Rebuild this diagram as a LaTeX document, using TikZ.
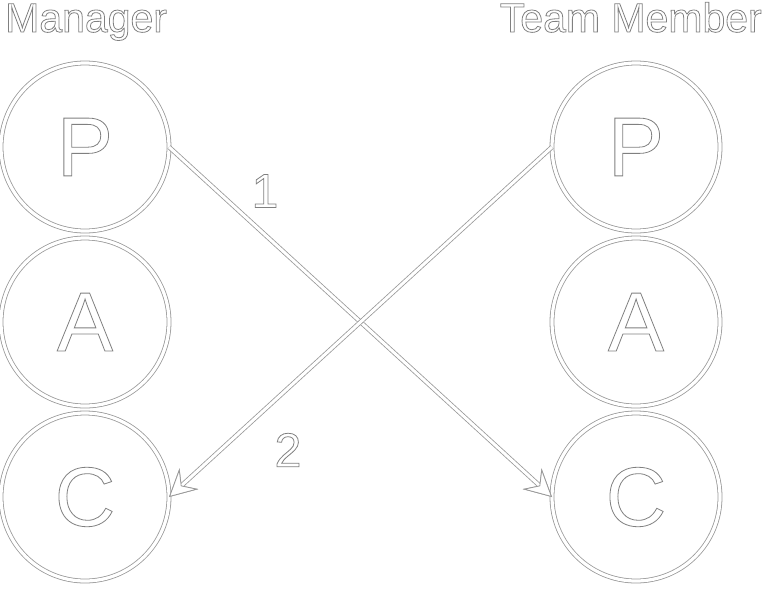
\documentclass[tikz,border=0pt]{standalone}
\usepackage{fontspec}
\setmainfont{Liberation Sans}
\usetikzlibrary{arrows.meta}
\newcommand{\emb}[1]{\special{pdf:code 2 Tr 0.8 w 0.5 G 1 g}#1\special{pdf:code 0 Tr 0 g 0 G}}
\tikzset{
  ring/.style={circle, minimum size=168pt, inner sep=0pt, outer sep=0pt,
    draw=black!40, double=white, double distance=3.2pt, line width=0.8pt,
    font=\fontsize{84}{84}\selectfont},
  link/.style={white, line width=3pt, preaction={draw=black!40, line width=4.6pt},
    -{Stealth[length=27pt,width=28pt,inset=10pt,fill=white,color=black!40,line width=0.8pt]}},
  title/.style={font=\fontsize{41}{41}\selectfont, inner sep=0pt},
  num/.style={font=\fontsize{48}{48}\selectfont, inner sep=0pt}
}
\begin{document}
\begin{tikzpicture}[x=1pt,y=-1pt]
\useasboundingbox (0,0) rectangle (767,589);
\node[title, anchor=base west] (mgr) at (5,32) {\emb{Manager}};
\node[title, anchor=base east] (tm) at (762,32) {\emb{Team Member}};
\node[ring] (MP) at (85,147) {\emb{P}};
\node[ring] (MA) at (85,322) {\emb{A}};
\node[ring] (MC) at (85,497) {\emb{C}};
\node[ring] (TP) at (636,147) {\emb{P}};
\node[ring] (TA) at (636,322) {\emb{A}};
\node[ring] (TC) at (636,497) {\emb{C}};
\draw[link] (MP.east) -- (TC.west);
\draw[link] (TP.west) -- (MC.east);
\node[num] (n1) at (265,191) {\emb{1}};
\node[num] (n2) at (288,450) {\emb{2}};
\end{tikzpicture}
\end{document}
